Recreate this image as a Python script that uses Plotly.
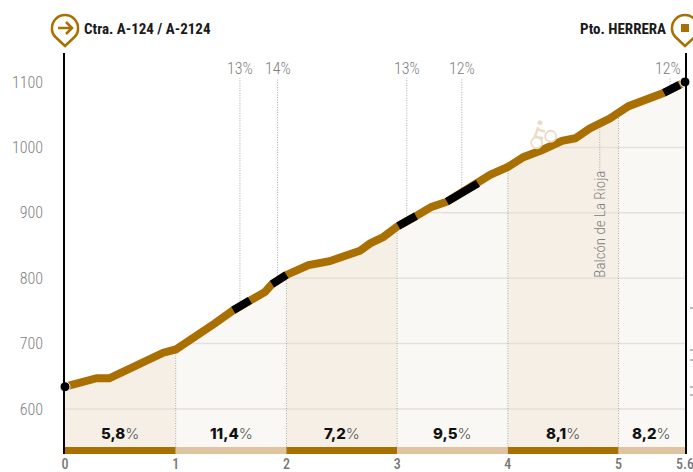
import numpy as np
import plotly.graph_objects as go

km = [0, 0.18, 0.286, 0.4, 0.587, 0.693, 0.813, 0.888, 1.0, 1.25, 1.355, 1.52, 1.67, 1.807, 1.87, 2.0,
      2.2, 2.39, 2.665, 2.755, 2.875, 3.0, 3.16, 3.31, 3.45, 3.73, 3.84, 4.0,
      4.14, 4.31, 4.49, 4.61, 4.74, 4.92, 5.0, 5.09, 5.405, 5.6]
elevation = [634, 643, 647, 647, 662, 671, 678, 686, 691, 718, 731, 751, 766, 779, 791, 805,
             820, 826, 842, 853, 863, 879, 894, 909, 917, 945, 958, 970,
             985, 996, 1010, 1014, 1029, 1044, 1052, 1063, 1083, 1100]
section_edges = [0, 1, 2, 3, 4, 5, 5.6]
section_grades = ["5,8", "11,4", "7,2", "9,5", "8,1", "8,2"]
steep_spans = [(1.52, 1.67), (1.87, 2.0), (3.01, 3.17), (3.45, 3.73), (5.41, 5.55)]
steep_km = [1.58, 1.92, 3.087, 3.584, 5.465]
steep_labels = ["13%", "14%", "13%", "12%", "12%"]
elev_ticks = [600, 700, 800, 900, 1000, 1100]
start_name = "Ctra. A-124 / A-2124"
end_name = "Pto. HERRERA"
place_name = "Balcón de La Rioja"
place_km = 4.83

GOLD = "#a96f00"
TAN = "#dfc4a1"
FILL_A = "#f5efe6"
FILL_B = "#faf8f4"
GRID = "#e3e1dc"
DOT = "#a8a8a8"
GREY = "#808080"
BIKE = "#ecdcc6"
NARROW = "Roboto Condensed, Liberation Sans Narrow, Roboto, sans-serif"
Y_MIN, Y_MAX = 531.2, 1144.3

km_a = np.array(km, float)
el_a = np.array(elevation, float)


def profile_at(x):
    return float(np.interp(x, km_a, el_a))


def dotted(x0, y0, y1):
    fig.add_trace(go.Scatter(x=[x0, x0], y=[y0, y1], mode="lines",
                             line=dict(color=DOT, width=1, dash="1px,1.5px"), hoverinfo="skip", showlegend=False))


def circle_path(cx, cy, r):
    k = 0.5523 * r
    return (f"M {cx - r} {cy} C {cx - r} {cy + k} {cx - k} {cy + r} {cx} {cy + r} "
            f"C {cx + k} {cy + r} {cx + r} {cy + k} {cx + r} {cy} "
            f"C {cx + r} {cy - k} {cx + k} {cy - r} {cx} {cy - r} "
            f"C {cx - k} {cy - r} {cx - r} {cy - k} {cx - r} {cy} Z")


def pixel_shape(path, x, y, xref="paper", yref="paper", **kw):
    fig.add_shape(type="path", path=path, xref=xref, yref=yref, xanchor=x, yanchor=y,
                  xsizemode="pixel", ysizemode="pixel", layer="above", **kw)


fig = go.Figure()

for i in range(len(section_edges) - 1):
    a, b = section_edges[i], section_edges[i + 1]
    m = (km_a >= a) & (km_a <= b)
    fig.add_trace(go.Scatter(x=km_a[m], y=el_a[m], mode="lines", line=dict(width=0),
                             fill="tozeroy", fillcolor=FILL_A if i % 2 == 0 else FILL_B,
                             hoverinfo="skip", showlegend=False))

for t in elev_ticks[:-1]:
    fig.add_trace(go.Scatter(x=[np.interp(t, el_a, km_a) if t > el_a[0] else 0, 5.6], y=[t, t], mode="lines",
                             line=dict(color=GRID, width=1.5), hoverinfo="skip", showlegend=False))

for e in section_edges[1:-1]:
    dotted(e, Y_MIN, profile_at(e))
for k in steep_km:
    dotted(k, profile_at(k), 1106)
dotted(place_km, 965, profile_at(place_km))

for i in range(len(section_edges) - 1):
    fig.add_trace(go.Scatter(x=[section_edges[i], section_edges[i + 1]], y=[Y_MIN + 5.3, Y_MIN + 5.3], mode="lines",
                             line=dict(color=GOLD if i % 2 == 0 else TAN, width=7),
                             hoverinfo="skip", showlegend=False))

fig.add_trace(go.Scatter(x=km_a, y=el_a, mode="lines", line=dict(color=GOLD, width=8),
                         hoverinfo="skip", showlegend=False))
for a, b in steep_spans:
    inner = km_a[(km_a > a) & (km_a < b)]
    xs = [a, *inner, b]
    fig.add_trace(go.Scatter(x=xs, y=[profile_at(x) for x in xs], mode="lines",
                             line=dict(color="black", width=8), hoverinfo="skip", showlegend=False))

fig.add_trace(go.Scatter(x=[km[0], km[-1]], y=[elevation[0], elevation[-1]], mode="markers",
                         marker=dict(color="black", size=10, line=dict(color="white", width=1)),
                         cliponaxis=False, hoverinfo="skip", showlegend=False))

for i, g in enumerate(section_grades):
    fig.add_annotation(x=(section_edges[i] + section_edges[i + 1]) / 2, y=563, showarrow=False,
                       text=f"{g}<span style='color:#555555;font-weight:300'>%</span>",
                       font=dict(family="Inter, Open Sans, sans-serif", size=15, color="#111111", weight=800))
for n, (k, s) in enumerate(zip(steep_km, steep_labels)):
    fig.add_annotation(x=k, y=1121, showarrow=False, text=s, xshift=-2 if n == 4 else 0,
                       font=dict(family=NARROW, size=16, color=GREY, weight=300))
fig.add_annotation(x=place_km, y=883, showarrow=False, text=place_name, textangle=-90,
                   font=dict(family=NARROW, size=15, color=GREY, weight=300))
fig.add_annotation(xref="paper", yref="paper", x=0, y=1, xanchor="left", yanchor="middle", xshift=17, yshift=24,
                   showarrow=False, text=f"<b>{start_name}</b>",
                   font=dict(family=NARROW, size=15, color="#1a1a1a"))
fig.add_annotation(xref="paper", yref="paper", x=1, y=1, xanchor="right", yanchor="middle", xshift=-17, yshift=24,
                   showarrow=False, text=f"<b>{end_name}</b>",
                   font=dict(family=NARROW, size=15, color="#1a1a1a"))

# map pins: pixel offsets measured up from the top of the plot
pin = ("M 0 7 L -9.5 16 C -13.5 20 -13 25 -13 25 C -13 32.2 -7.2 38 0 38 "
       "C 7.2 38 13 32.2 13 25 C 13 25 13.5 20 9.5 16 Z")
for side in (0, 1):
    pixel_shape(pin, side, 1, line=dict(color=GOLD, width=2.5), fillcolor="white")
pixel_shape("M -7 25 L 6 25 M 1 31 L 7 25 L 1 19", 0, 1, line=dict(color=GOLD, width=2.5))
pixel_shape("M -4 21 L 4 21 L 4 29 L -4 29 Z", 1, 1, line=dict(width=0), fillcolor=GOLD)

# cyclist pictogram next to the climb
bike_x, bike_y = 4.29, 1017
for cx, cy in [(-3.3, -6.5), (10.7, 0)]:
    pixel_shape(circle_path(cx, cy, 5.5), bike_x, bike_y, "x", "y", line=dict(color=BIKE, width=1.8),
                fillcolor="rgba(0,0,0,0)")
pixel_shape(circle_path(0, 13.5, 2.5), bike_x, bike_y, "x", "y", line=dict(width=0), fillcolor=BIKE)
pixel_shape("M -1.7 9 L -5 -0.4 L 3.3 -2 M -2.5 7 L 5 4.6", bike_x, bike_y, "x", "y", line=dict(color=BIKE, width=2.5))

# clipped glyph marks at the right edge of the crop
for off in (-255, -297, -307, -334, -342):
    pixel_shape(f"M 5 {off} L 8 {off}", 1, 1, line=dict(color="#777777", width=1))

fig.update_layout(
    width=693, height=472, margin=dict(l=65, r=8, t=53, b=18, autoexpand=False),
    paper_bgcolor="white", plot_bgcolor="white", showlegend=False,
    xaxis=dict(range=[0, 5.6], tickvals=[0, 1, 2, 3, 4, 5, 5.6], ticktext=["0", "1", "2", "3", "4", "5", "5.6"],
               showgrid=False, zeroline=False, showline=False, ticks="", automargin=False, ticklabeloverflow="allow",
               tickfont=dict(family=NARROW, size=14, color="#777777", weight=500)),
    yaxis=dict(range=[Y_MIN, Y_MAX], tickvals=elev_ticks, showgrid=False, zeroline=False, automargin=False,
               showline=True, mirror=True, linecolor="black", linewidth=1.5, ticks="", ticklabelstandoff=17,
               tickfont=dict(family=NARROW, size=16, color=GREY, weight=300)),
)

fig.write_html(
    "out.html",
    config={"displayModeBar": False},
    post_script="document.body.style.margin='0';"
                "var s=document.createElement('style');s.textContent='svg text{font-stretch:75%}';document.head.appendChild(s);",
)
